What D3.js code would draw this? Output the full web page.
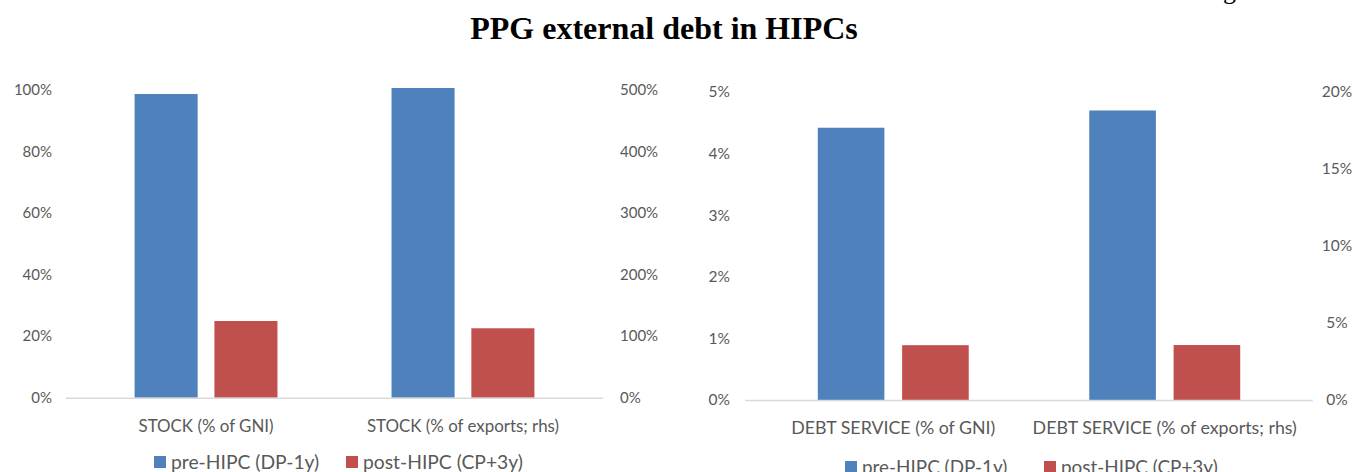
<!DOCTYPE html>
<html>
<head>
<meta charset="utf-8">
<script src="https://cdn.jsdelivr.net/npm/d3@7"></script>
<style>
  body { margin: 0; background: #fff; }
  svg { display: block; }
</style>
</head>
<body>
<div id="chart"></div>
<script>
// data
var seriesNames = ["pre-HIPC (DP-1y)", "post-HIPC (CP+3y)"];
var seriesColors = ["#4F81BD", "#C0504D"];

var stockCategories = ["STOCK (% of GNI)", "STOCK (% of exports; rhs)"];
var stockPre = [98.6, 502.8];
var stockPost = [24.9, 112.7];
var stockLeftTicks = [0, 20, 40, 60, 80, 100];
var stockRightTicks = [0, 100, 200, 300, 400, 500];

var serviceCategories = ["DEBT SERVICE (% of GNI)", "DEBT SERVICE (% of exports; rhs)"];
var servicePre = [4.42, 18.8];
var servicePost = [0.89, 3.57];
var serviceLeftTicks = [0, 1, 2, 3, 4, 5];
var serviceRightTicks = [0, 5, 10, 15, 20];

// which axis each category is read against
var axisSide = ["left", "right"];

var W = 1362, H = 472;
var svg = d3.select("#chart").append("svg")
    .attr("width", W)
    .attr("height", H);

// title (and the tail of a "g" from the line above, cut by the crop)
svg.append("text")
    .attr("x", 664).attr("y", 39)
    .attr("text-anchor", "middle")
    .attr("font-family", "'Liberation Serif', 'Times New Roman', serif")
    .attr("font-weight", "bold")
    .attr("font-size", 32)
    .text("PPG external debt in HIPCs");
svg.append("text")
    .attr("x", 1223).attr("y", -1)
    .attr("font-family", "'Liberation Serif', 'Times New Roman', serif")
    .attr("font-size", 26)
    .text("g");

function barPanel(opts) {
    var g = svg.append("g");
    var fs = opts.fontSize;

    var x = d3.scaleBand()
        .domain(opts.categories)
        .range([opts.x0, opts.x1])
        .paddingInner(0)
        .paddingOuter(0.045);

    var groupW = x.bandwidth() * 0.556;
    var xs = d3.scaleBand()
        .domain(d3.range(seriesNames.length))
        .range([0, groupW])
        .paddingInner(0.21);

    var yL = d3.scaleLinear().domain([0, d3.max(opts.leftTicks)]).range([opts.y0, opts.yTop]);
    var yR = d3.scaleLinear().domain([0, d3.max(opts.rightTicks)]).range([opts.y0, opts.yTop]);

    // tick labels, no lines
    var axL = d3.axisLeft(yL).tickValues(opts.leftTicks)
        .tickFormat(function(d) { return d + "%"; })
        .tickSize(0).tickPadding(0);
    var gl = g.append("g").attr("transform", "translate(" + opts.leftLabelX + ",0)").call(axL);
    var axR = d3.axisRight(yR).tickValues(opts.rightTicks)
        .tickFormat(function(d) { return d + "%"; })
        .tickSize(0).tickPadding(0);
    var gr = g.append("g").attr("transform", "translate(" + opts.rightLabelX + ",0)").call(axR);
    [gl, gr].forEach(function(a) {
        a.select(".domain").remove();
        a.selectAll("text")
            .attr("fill", "#595959")
            .attr("font-family", "Lato, 'Open Sans', sans-serif")
            .attr("font-size", fs);
    });
    if (opts.rightAnchor) gr.selectAll("text").attr("text-anchor", opts.rightAnchor);

    // bars
    var rows = [];
    opts.categories.forEach(function(c, i) {
        var y = axisSide[i] === "left" ? yL : yR;
        opts.values.forEach(function(vals, s) {
            rows.push({cat: c, s: s, v: vals[i], y: y});
        });
    });
    g.selectAll("rect.bar")
        .data(rows)
        .enter()
        .append("rect")
        .attr("class", "bar")
        .attr("x", function(d) { return x(d.cat) + (x.bandwidth() - groupW) / 2 + xs(d.s); })
        .attr("width", xs.bandwidth())
        .attr("y", function(d) { return d.y(d.v); })
        .attr("height", function(d) { return d.y(0) - d.y(d.v); })
        .attr("fill", function(d) { return seriesColors[d.s]; });

    // category axis line
    g.append("line")
        .attr("x1", opts.x0).attr("x2", opts.x1)
        .attr("y1", opts.y0 + 0.5).attr("y2", opts.y0 + 0.5)
        .attr("stroke", "#d9d9d9")
        .attr("stroke-width", 1.6);

    g.selectAll("text.cat")
        .data(opts.categories)
        .enter()
        .append("text")
        .attr("class", "cat")
        .attr("x", function(d) { return x(d) + x.bandwidth() / 2; })
        .attr("y", opts.y0 + 28)
        .attr("dy", "0.35em")
        .attr("text-anchor", "middle")
        .attr("fill", "#595959")
        .attr("font-family", "Lato, 'Open Sans', sans-serif")
        .attr("font-size", opts.catSize)
        .text(function(d) { return d; });

    // legend
    var lg = g.append("g");
    seriesNames.forEach(function(name, s) {
        lg.append("rect")
            .attr("x", opts.legendX[s])
            .attr("y", opts.legendY - 6)
            .attr("width", 12).attr("height", 12)
            .attr("fill", seriesColors[s]);
        lg.append("text")
            .attr("x", opts.legendX[s] + 17)
            .attr("y", opts.legendY)
            .attr("dy", "0.35em")
            .attr("fill", "#595959")
            .attr("font-family", "Lato, 'Open Sans', sans-serif")
            .attr("font-size", opts.legendSize)
            .text(name);
    });
}

barPanel({
    categories: stockCategories,
    values: [stockPre, stockPost],
    leftTicks: stockLeftTicks,
    rightTicks: stockRightTicks,
    x0: 66, x1: 603,
    y0: 397.7, yTop: 89.7,
    leftLabelX: 52, rightLabelX: 620,
    fontSize: 15,
    catSize: 16.9,
    legendX: [154, 346],
    legendY: 462,
    legendSize: 19.3
});

barPanel({
    categories: serviceCategories,
    values: [servicePre, servicePost],
    leftTicks: serviceLeftTicks,
    rightTicks: serviceRightTicks,
    x0: 745.3, x1: 1312.7,
    y0: 400, yTop: 92,
    leftLabelX: 730, rightLabelX: 1337, rightAnchor: "middle",
    fontSize: 15.5,
    catSize: 17.8,
    legendX: [845, 1044],
    legendY: 467,
    legendSize: 18.9
});
</script>
</body>
</html>
